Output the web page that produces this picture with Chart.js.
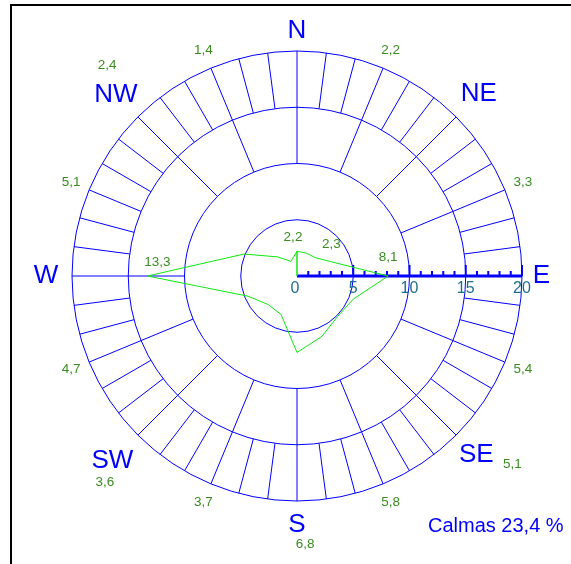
<!DOCTYPE html>
<html>
<head>
<meta charset="utf-8">
<script src="https://cdn.jsdelivr.net/npm/chart.js@4.4.1/dist/chart.umd.min.js"></script>
<style>
  body { margin: 0; background: #fff; }
  canvas { display: block; }
</style>
</head>
<body>
<canvas id="rose" width="571" height="564"></canvas>
<script>
// wind frequency (%) per direction, clockwise from north
const directions = ['N', 'NNE', 'NE', 'ENE', 'E', 'ESE', 'SE', 'SSE', 'S', 'SSW', 'SW', 'WSW', 'W', 'WNW', 'NW', 'NNW'];
const frequencies = [2.2, 2.2, 2.3, 3.3, 8.1, 5.4, 5.1, 5.8, 6.8, 3.7, 3.6, 4.7, 13.3, 5.1, 2.4, 1.4];
const compassNames = ['N', 'NE', 'E', 'SE', 'S', 'SW', 'W', 'NW'];
const scaleTicks = [0, 5, 10, 15, 20];
const calmPercent = 23.4;

const BLUE = '#0000ff';
const POLY_GREEN = '#11e611';
const LABEL_GREEN = '#3a8c22';
const TICK_TEAL = '#1f6f8c';
const FONT = 'Arial, "Liberation Sans", sans-serif';

const fmt = v => v.toFixed(1).replace('.', ',');

// point at compass angle deg (clockwise from N) and given scale value
function polar(scale, deg, value, extraPx = 0) {
  const d = scale.getDistanceFromCenterForValue(value) + extraPx;
  const a = deg * Math.PI / 180;
  return { x: scale.xCenter + d * Math.sin(a), y: scale.yCenter - d * Math.cos(a) };
}

// where the value labels sit (px outside the outer ring, or next to the vertex)
const labelSpots = {
  N: { vertex: true, dx: -4, dy: -14 },
  NE: { vertex: true, dx: 16, dy: -13 },
  E: { vertex: true, dx: 0, dy: -19 },
  W: { vertex: true, dx: 10, dy: -14 },
  NW: { deg: 318, ring: 58.6 },
  SE: { deg: 131.2, ring: 61.4 },
  SW: { deg: 223, ring: 56.6 },
  S: { deg: 178.25, ring: 43.8 }
};
// compass letters: px outside the outer ring
const compassRing = { N: 20, NE: 32, E: 19.5, SE: 28.6, S: 23.5, SW: 36, W: 26, NW: 31 };

const roseDecor = {
  id: 'roseDecor',
  beforeDatasetsDraw(chart) {
    const ctx = chart.ctx;
    const r = chart.scales.r;
    ctx.save();
    ctx.strokeStyle = BLUE;
    ctx.lineWidth = 1;
    ctx.beginPath();
    // main spokes 10 -> 15 (no WNW spoke in the original)
    directions.forEach((d, i) => {
      if (d === 'WNW' || d === 'E') return;
      const a = r.getPointPositionForValue(i, 10);
      const b = r.getPointPositionForValue(i, 15);
      ctx.moveTo(a.x, a.y);
      ctx.lineTo(b.x, b.y);
    });
    // outer band, a stroke every 7.5 degrees
    for (let deg = 0; deg < 360; deg += 7.5) {
      if (deg === 90) continue;
      const a = polar(r, deg, 15);
      const b = polar(r, deg, 20);
      ctx.moveTo(a.x, a.y);
      ctx.lineTo(b.x, b.y);
    }
    ctx.stroke();

    // speed scale along east
    const y0 = r.yCenter;
    const x0 = polar(r, 90, 0).x;
    const x20 = polar(r, 90, 20).x;
    ctx.lineWidth = 3;
    ctx.beginPath();
    ctx.moveTo(x0, y0);
    ctx.lineTo(x20, y0);
    ctx.stroke();
    ctx.lineWidth = 2;
    ctx.beginPath();
    for (let v = 1; v <= 20; v++) {
      const x = polar(r, 90, v).x;
      const h = v % 5 === 0 ? 11 : 5;
      ctx.moveTo(x, y0);
      ctx.lineTo(x, y0 - h);
    }
    ctx.stroke();
    ctx.fillStyle = TICK_TEAL;
    ctx.font = '16px ' + FONT;
    ctx.textAlign = 'center';
    ctx.textBaseline = 'alphabetic';
    scaleTicks.forEach(v => {
      ctx.fillText(String(v), polar(r, 90, v).x - (v === 0 ? 2 : 0), y0 + 17);
    });

    // the rose is drawn starting from the centre: stroke centre -> N vertex
    const n = r.getPointPositionForValue(0, frequencies[0]);
    ctx.strokeStyle = POLY_GREEN;
    ctx.lineWidth = 1.5;
    ctx.beginPath();
    ctx.moveTo(r.xCenter, y0);
    ctx.lineTo(n.x, n.y);
    ctx.stroke();
    ctx.restore();
  },
  afterDatasetsDraw(chart) {
    const ctx = chart.ctx;
    const r = chart.scales.r;
    const step = 360 / directions.length;
    ctx.save();
    ctx.textAlign = 'center';
    ctx.textBaseline = 'middle';

    // compass letters
    ctx.fillStyle = BLUE;
    ctx.font = '26px ' + FONT;
    compassNames.forEach(name => {
      const deg = directions.indexOf(name) * step;
      const p = polar(r, deg, 20, compassRing[name]);
      ctx.fillText(name, p.x, p.y);
    });

    // frequency labels
    ctx.fillStyle = LABEL_GREEN;
    ctx.font = '13.5px ' + FONT;
    directions.forEach((d, i) => {
      const spot = labelSpots[d] || { deg: i * step, ring: 19.5 };
      let p;
      if (spot.vertex) {
        const v = r.getPointPositionForValue(i, frequencies[i]);
        p = { x: v.x + spot.dx, y: v.y + spot.dy };
      } else {
        p = polar(r, spot.deg, 20, spot.ring);
      }
      ctx.fillText(fmt(frequencies[i]), p.x, p.y);
    });

    // calms
    ctx.fillStyle = BLUE;
    ctx.font = '20px ' + FONT;
    ctx.textAlign = 'left';
    ctx.fillText('Calmas ' + fmt(calmPercent) + ' %', 428, 526);

    // frame
    ctx.strokeStyle = '#000';
    ctx.lineWidth = 2;
    ctx.strokeRect(11, 5, 600, 600);
    ctx.restore();
  }
};

new Chart(document.getElementById('rose'), {
  type: 'radar',
  data: {
    labels: directions,
    datasets: [{
      data: frequencies,
      borderColor: POLY_GREEN,
      borderWidth: 1,
      backgroundColor: 'rgba(0,0,0,0)',
      fill: false,
      pointRadius: 0,
      tension: 0
    }]
  },
  options: {
    responsive: false,
    animation: false,
    layout: { padding: { left: 72, right: 49, top: 51, bottom: 63 } },
    plugins: {
      legend: { display: false },
      tooltip: { enabled: false }
    },
    scales: {
      r: {
        min: 0,
        max: 20,
        ticks: { display: false, stepSize: 5 },
        pointLabels: { display: false },
        angleLines: { display: false },
        grid: { circular: true, color: BLUE, lineWidth: 1 }
      }
    }
  },
  plugins: [roseDecor]
});
</script>
</body>
</html>
